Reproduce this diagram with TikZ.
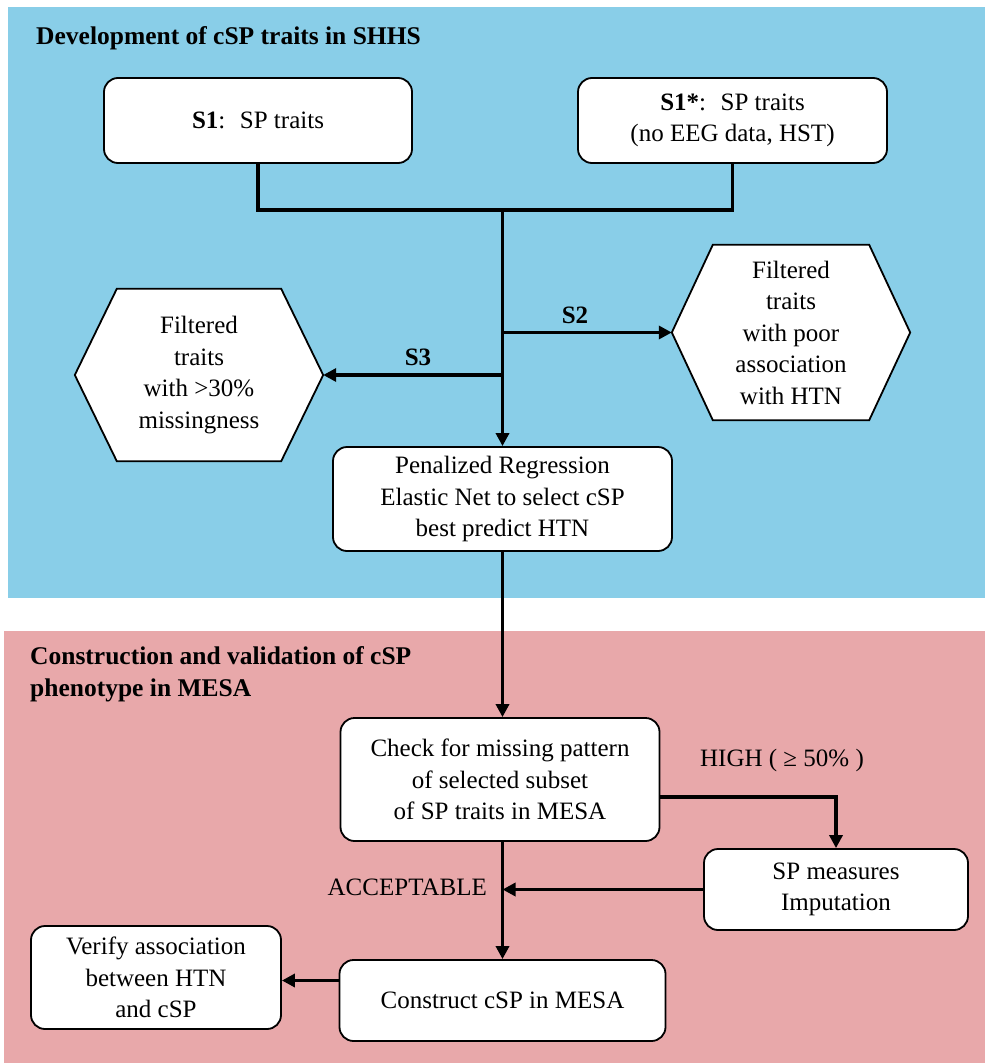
\documentclass[tikz,border=0pt]{standalone}
\usepackage{fontspec}
\setmainfont{Liberation Serif}
\usetikzlibrary{arrows.meta,calc}
\definecolor{bluebg}{RGB}{137,206,232}
\definecolor{pinkbg}{RGB}{232,168,170}
\begin{document}
\begin{tikzpicture}[x=1pt,y=-1pt,
  txt/.style={font=\fontsize{25}{31.5}\selectfont},
  box/.style={txt, draw=black, line width=1.8pt, fill=white, rounded corners=14pt, align=center, inner sep=0pt},
  hexnode/.style={txt, align=center, minimum width=248pt, minimum height=172pt, inner sep=0pt},
  hexline/.style={draw=black, line width=1.8pt, fill=white, line join=miter},
  conn/.style={line width=3.4pt},
  arr/.style={conn, -{Triangle[length=13pt,width=13pt]}},
  title/.style={font=\fontsize{25.5}{32}\selectfont\bfseries, align=left, anchor=north west, inner sep=0pt},
  lab/.style={txt, inner sep=0pt}
]
\useasboundingbox (0,0) rectangle (985,1063);
\fill[bluebg] (8,7) rectangle (985,598);
\fill[pinkbg] (4,631) rectangle (985,1063);

\node[title] (t1) at (36,26) {Development of cSP traits in SHHS};
\node[title] (t2) at (30,646) {Construction and validation of cSP\\phenotype in MESA};

\node[box, minimum width=308pt, minimum height=85pt] (s1) at (258,120.5) {\textbf{S1}:~ SP traits};
\node[box, minimum width=309pt, minimum height=85pt] (s1s) at (732.5,120.5) {\textbf{S1*}:~ SP traits\\(no EEG data, HST)};
\node[box, minimum width=339pt, minimum height=104pt] (pen) at (502.5,499) {Penalized Regression\\Elastic Net to select cSP\\best predict HTN};

% hexagons
\node[hexnode] (lh) at (199,375) {};
\path[hexline] (lh.west) -- ($(lh.north west)+(42,0)$) -- ($(lh.north east)+(-42,0)$) -- (lh.east)
  -- ($(lh.south east)+(-42,0)$) -- ($(lh.south west)+(42,0)$) -- cycle;
\node[txt, align=center] at (lh.center) {Filtered\\traits\\with >30\%\\missingness};

\node[hexnode, minimum width=238pt, minimum height=175pt] (rh) at (791,332.5) {};
\path[hexline] (rh.west) -- ($(rh.north west)+(41,0)$) -- ($(rh.north east)+(-41,0)$) -- (rh.east)
  -- ($(rh.south east)+(-41,0)$) -- ($(rh.south west)+(41,0)$) -- cycle;
\node[txt, align=center] at (rh.center) {Filtered\\traits\\with poor\\association\\with HTN};

% top connectors
\coordinate (j) at (502.5,210);
\coordinate (b2) at (502.5,332.5);
\coordinate (b3) at (502.5,375);
\draw[conn, line join=miter] (s1.south) |- (j) -| (s1s.south);
\draw[arr] (j) -- (pen.north);
\draw[arr] (b2) -- (rh.west);
\draw[arr] (b3) -- (lh.east);
\node[lab, font=\fontsize{25}{28}\selectfont\bfseries] (ls2) at (575,315) {S2};
\node[lab, font=\fontsize{25}{28}\selectfont\bfseries] (ls3) at (418,357) {S3};

% MESA part
\node[box, minimum width=319pt, minimum height=123pt] (chk) at (500,779.5) {Check for missing pattern\\of selected subset\\of SP traits in MESA};
\node[box, minimum width=264pt, minimum height=81pt] (sp) at (836,889.5) {SP measures\\Imputation};
\node[box, minimum width=326pt, minimum height=81pt] (con) at (502.5,1000.5) {Construct cSP in MESA};
\node[box, minimum width=250pt, minimum height=103pt] (ver) at (156,977.5) {Verify association\\between HTN\\and cSP};

\draw[arr] (pen.south) -- (pen.south |- chk.north);
\draw[arr] (pen.south |- chk.south) -- (con.north);
\coordinate (hi) at (chk.east |- 0,797);
\draw[arr, line join=miter] (hi) -| (sp.north);
\node[lab] (lhigh) at (782,760) {HIGH ( ≥ 50\% )};
\draw[arr] (sp.west) -- (sp.west -| pen.south);
\node[lab, anchor=east] (lacc) at (487,887) {ACCEPTABLE};
\coordinate (cv) at ($(con.west)+(0,-20)$);
\draw[arr] (cv) -- (cv -| ver.east);
\end{tikzpicture}
\end{document}
